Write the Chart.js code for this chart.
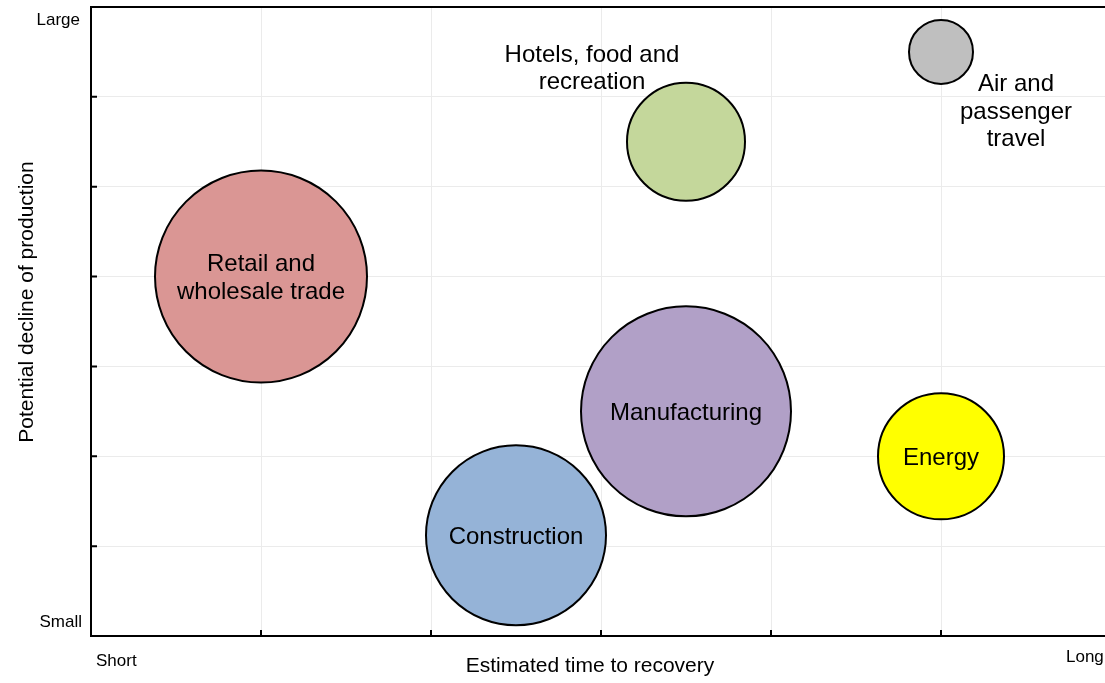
<!DOCTYPE html>
<html>
<head>
<meta charset="utf-8">
<script src="https://cdn.jsdelivr.net/npm/chart.js@4.4.1/dist/chart.umd.min.js"></script>
<style>
  html, body { margin:0; padding:0; background:#fff; overflow:hidden; }
  #wrap { width:1125px; height:683px; }
</style>
</head>
<body>
<div id="wrap"><canvas id="chart" width="1125" height="683"></canvas></div>
<script>
/* ==== Data ==== */
const sectors = [
  ['Retail and', 'wholesale trade'],
  ['Hotels, food and', 'recreation'],
  ['Air and', 'passenger', 'travel'],
  ['Manufacturing'],
  ['Energy'],
  ['Construction']
];
const recoveryTime = [1, 3.5, 5, 3.5, 5, 2.5];
const productionDecline = [4, 5.5, 6.5, 2.5, 2, 1.12];
const bubbleSizes = [106, 59, 32, 105, 63, 90];
const xEndLabels = ['Short', 'Long'];
const yEndLabels = ['Small', 'Large'];
const xTitle = 'Estimated time to recovery';
const yTitle = 'Potential decline of production';

/* ==== Styles ==== */
const colors = ['#da9694', '#c4d79b', '#bfbfbf', '#b1a0c7', '#ffff00', '#95b3d7'];
const labelOffsets = [[0, 2], [-94, -73], [75, 60], [0, 2], [0, 2], [0, 2]];
const FONT = '"Liberation Sans", Arial, sans-serif';
const GRID = '#ebebeb';

/* ==== Annotations (frame, inner ticks, texts) ==== */
const annotate = {
  id: 'annotate',
  afterDatasetsDraw(chart){
    const { ctx, chartArea: a, scales: { x, y } } = chart;
    ctx.save();

    // top frame + inner tick marks
    ctx.strokeStyle = '#000';
    ctx.lineWidth = 2;
    ctx.beginPath();
    ctx.moveTo(a.left - 1, a.top);
    ctx.lineTo(a.right, a.top);
    x.ticks.forEach(t => {
      if(t.value > x.min && t.value < x.max){
        const px = x.getPixelForValue(t.value);
        ctx.moveTo(px, a.bottom);
        ctx.lineTo(px, a.bottom - 6);
      }
    });
    y.ticks.forEach(t => {
      if(t.value > y.min && t.value < y.max){
        const py = y.getPixelForValue(t.value);
        ctx.moveTo(a.left, py);
        ctx.lineTo(a.left + 6, py);
      }
    });
    ctx.stroke();

    ctx.fillStyle = '#000';

    // end labels
    ctx.font = '17px ' + FONT;
    ctx.textBaseline = 'alphabetic';
    ctx.textAlign = 'right';
    ctx.fillText(yEndLabels[0], a.left - 9, a.bottom - 9);
    ctx.fillText(yEndLabels[1], a.left - 11, a.top + 18);
    ctx.textAlign = 'left';
    ctx.fillText(xEndLabels[0], a.left + 5, a.bottom + 30);
    ctx.fillText(xEndLabels[1], a.right - 45, a.bottom + 26);

    // axis titles
    ctx.font = '21px ' + FONT;
    ctx.textAlign = 'center';
    ctx.fillText(xTitle, (a.left + a.right) / 2 - 11, a.bottom + 36);
    ctx.save();
    ctx.translate(33, 302);
    ctx.rotate(-Math.PI / 2);
    ctx.fillText(yTitle, 0, 0);
    ctx.restore();

    // bubble labels
    const meta = chart.getDatasetMeta(0);
    ctx.font = '24px ' + FONT;
    ctx.textBaseline = 'middle';
    const lh = 27.5;
    meta.data.forEach((pt, i) => {
      const lines = sectors[i];
      const cx = pt.x + labelOffsets[i][0];
      const cy = pt.y + labelOffsets[i][1];
      lines.forEach((s, k) => {
        ctx.fillText(s, cx, cy + (k - (lines.length - 1) / 2) * lh);
      });
    });

    ctx.restore();
  }
};

/* ==== Chart ==== */
const ctx = document.getElementById('chart').getContext('2d');
new Chart(ctx, {
  type: 'bubble',
  data: {
    datasets: [{
      data: recoveryTime.map((v, i) => ({ x: v, y: productionDecline[i], r: bubbleSizes[i] })),
      backgroundColor: colors,
      borderColor: '#000',
      borderWidth: 2,
      hoverRadius: 0,
      clip: false
    }]
  },
  options: {
    responsive: false,
    animation: false,
    events: [],
    layout: { autoPadding: false, padding: { left: 0, right: 14, top: 7, bottom: 0 } },
    plugins: { legend: { display: false }, tooltip: { enabled: false } },
    scales: {
      x: {
        type: 'linear', min: 0, max: 6,
        ticks: { display: false, stepSize: 1 },
        grid: { color: c => (c.tick && c.tick.value > 0) ? GRID : 'transparent', drawTicks: false },
        border: { display: true, color: '#000', width: 2 },
        afterFit: s => { s.height = 47; }
      },
      y: {
        type: 'linear', min: 0, max: 7,
        ticks: { display: false, stepSize: 1 },
        grid: { color: c => (c.tick && c.tick.value > 0 && c.tick.value < 7) ? GRID : 'transparent', drawTicks: false },
        border: { display: true, color: '#000', width: 2 },
        afterFit: s => { s.width = 91; }
      }
    }
  },
  plugins: [annotate]
});
</script>
</body>
</html>
